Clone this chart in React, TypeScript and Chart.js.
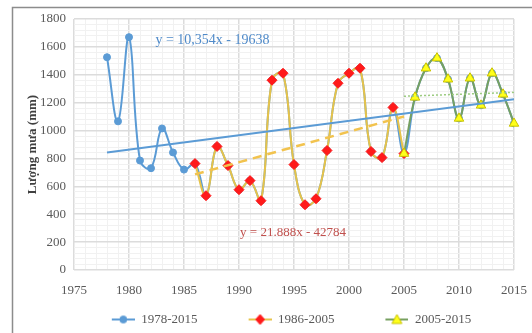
import React, { useEffect, useRef } from "react";
import { Chart, registerables } from "chart.js";

Chart.register(...registerables);

const years = [
  1978, 1979, 1980, 1981, 1982, 1983, 1984, 1985, 1986, 1987, 1988, 1989, 1990,
  1991, 1992, 1993, 1994, 1995, 1996, 1997, 1998, 1999, 2000, 2001, 2002, 2003,
  2004, 2005, 2006, 2007, 2008, 2009, 2010, 2011, 2012, 2013, 2014, 2015,
];
const rainfall = [
  1526, 1066, 1670, 785, 730, 1015, 843, 720, 763, 533, 886, 749, 576, 641, 497,
  1361, 1411, 756, 468, 511, 857, 1339, 1411, 1447, 850, 806, 1166, 835, 1238,
  1447, 1519, 1368, 1087, 1375, 1181, 1411, 1260, 1051,
];
const seriesLabels = ["1978-2015", "1986-2005", "2005-2015"];
const periodStart = [1978, 1986, 2005];
const periodEnd = [2015, 2005, 2015];

const trendBlueYears = [1978, 2015];
const trendBlueValues = [842, 1225];
const trendRedYears = [1986, 2005];
const trendRedValues = [686, 1101];
const trendGreenYears = [2005, 2015];
const trendGreenValues = [1246, 1274];

const eqBlueText = "y = 10,354x - 19638";
const eqBlueAt = [1982.4, 1650];
const eqRedText = "y = 21.888x - 42784";
const eqRedAt = [1990.1, 265];

const xTicks = [1975, 1980, 1985, 1990, 1995, 2000, 2005, 2010, 2015];
const yTicks = [0, 200, 400, 600, 800, 1000, 1200, 1400, 1600, 1800];
const yTitle = "Lượng mưa (mm)";

const FONT = "'Liberation Serif', 'Times New Roman', serif";
const BLUE = "#5B9BD5";
const GOLD = "#E6C34A";
const RED = "#FF1A1A";
const GREEN = "#77A061";
const YELLOW = "#FFFF1A";

function periodPoints(i: number) {
  const pts: { x: number; y: number }[] = [];
  years.forEach((yr, k) => {
    if (yr >= periodStart[i] && yr <= periodEnd[i]) pts.push({ x: yr, y: rainfall[k] });
  });
  return pts;
}

function pairPoints(xs: number[], ys: number[]) {
  return xs.map((x, k) => ({ x, y: ys[k] }));
}

const LEG_W = 72;
const LEG_OFF = 49;

function legendImage(line: string, marker: string, fill: string, stroke: string) {
  const c = document.createElement("canvas");
  c.width = LEG_W;
  c.height = 12;
  const g = c.getContext("2d")!;
  g.strokeStyle = line;
  g.lineWidth = 2;
  g.beginPath();
  g.moveTo(LEG_OFF, 6);
  g.lineTo(LEG_W, 6);
  g.stroke();
  const cx = (LEG_OFF + LEG_W) / 2, cy = 6;
  g.fillStyle = fill;
  g.strokeStyle = stroke;
  g.lineWidth = 1;
  g.beginPath();
  if (marker === "circle") {
    g.arc(cx, cy, 3.5, 0, Math.PI * 2);
  } else if (marker === "diamond") {
    g.moveTo(cx, cy - 5);
    g.lineTo(cx + 4.5, cy);
    g.lineTo(cx, cy + 5);
    g.lineTo(cx - 4.5, cy);
    g.closePath();
  } else {
    g.moveTo(cx, cy - 5);
    g.lineTo(cx + 5, cy + 4);
    g.lineTo(cx - 5, cy + 4);
    g.closePath();
  }
  g.fill();
  g.stroke();
  return c;
}

const decorPlugin = {
  id: "decor",
  beforeDraw(chart: any) {
    const ctx = chart.ctx;
    ctx.save();
    ctx.strokeStyle = "#8c8c8c";
    ctx.lineWidth = 1.5;
    ctx.strokeRect(12.5, 7.5, 700, 500);
    ctx.restore();
  },
  afterDatasetsDraw(chart: any) {
    const ctx = chart.ctx;
    const xs = chart.scales.x;
    const ys = chart.scales.y;
    ctx.save();
    ctx.textBaseline = "middle";
    ctx.textAlign = "left";
    ctx.font = `14px ${FONT}`;
    ctx.fillStyle = "#4F8AC9";
    ctx.fillText(eqBlueText, xs.getPixelForValue(eqBlueAt[0]), ys.getPixelForValue(eqBlueAt[1]));
    ctx.font = `13px ${FONT}`;
    ctx.fillStyle = "#C0504D";
    ctx.fillText(eqRedText, xs.getPixelForValue(eqRedAt[0]), ys.getPixelForValue(eqRedAt[1]));
    ctx.restore();
  },
};

export default function App() {
  const ref = useRef<HTMLCanvasElement>(null);

  useEffect(() => {
    document.body.style.margin = "0";
    const imgs = [
      legendImage(BLUE, "circle", BLUE, BLUE),
      legendImage(GOLD, "diamond", RED, RED),
      legendImage(GREEN, "triangle", YELLOW, "#C9C200"),
    ];
    const chart = new Chart(ref.current!, {
      type: "line",
      data: {
        datasets: [
          {
            label: seriesLabels[0],
            data: periodPoints(0),
            borderColor: BLUE,
            backgroundColor: BLUE,
            borderWidth: 2,
            pointStyle: "circle",
            pointRadius: 3.5,
            pointBorderWidth: 1,
            tension: 0.4,
            order: 5,
          },
          {
            label: seriesLabels[1],
            data: periodPoints(1),
            borderColor: GOLD,
            backgroundColor: RED,
            pointBorderColor: RED,
            borderWidth: 2,
            pointStyle: "rectRot",
            pointRadius: 5,
            pointBorderWidth: 1,
            tension: 0.4,
            order: 4,
          },
          {
            label: seriesLabels[2],
            data: periodPoints(2),
            borderColor: GREEN,
            backgroundColor: YELLOW,
            pointBorderColor: "#C9C200",
            borderWidth: 2,
            pointStyle: "triangle",
            pointRadius: 5.5,
            pointBorderWidth: 1,
            tension: 0.4,
            clip: 10,
            order: 3,
          },
          {
            label: "trend1",
            data: pairPoints(trendBlueYears, trendBlueValues),
            borderColor: BLUE,
            borderWidth: 2,
            pointRadius: 0,
            order: 2,
          },
          {
            label: "trend2",
            data: pairPoints(trendRedYears, trendRedValues),
            borderColor: "#F2C34E",
            borderWidth: 2.5,
            borderDash: [9, 6],
            pointRadius: 0,
            order: 1,
          },
          {
            label: "trend3",
            data: pairPoints(trendGreenYears, trendGreenValues),
            borderColor: "#9CCB80",
            borderWidth: 1.5,
            borderDash: [2, 2],
            pointRadius: 0,
            order: 0,
          },
        ],
      },
      options: {
        animation: false,
        responsive: false,
        maintainAspectRatio: false,
        layout: { padding: { left: 20, right: 18, top: 19, bottom: -3 } },
        scales: {
          x: {
            type: "linear",
            min: xTicks[0],
            max: xTicks[xTicks.length - 1],
            border: { display: false },
            afterFit: (s: any) => {
              s.paddingRight = 0;
              s.paddingLeft = 0;
            },
            grid: {
              drawTicks: false,
              color: (c: any) => (c.tick && xTicks.includes(c.tick.value) ? "#dcdcdc" : "#f1f1f1"),
              lineWidth: (c: any) => (c.tick && xTicks.includes(c.tick.value) ? 1.5 : 1),
            },
            ticks: {
              stepSize: 1,
              autoSkip: false,
              maxRotation: 0,
              padding: 14,
              color: "#595959",
              font: { family: FONT, size: 13, lineHeight: 1 },
              callback: (v: any) => (xTicks.includes(Number(v)) ? String(v) : ""),
            },
          },
          y: {
            min: yTicks[0],
            max: yTicks[yTicks.length - 1],
            border: { display: false },
            afterFit: (s: any) => {
              s.width = 54;
            },
            grid: {
              drawTicks: false,
              color: (c: any) => (c.tick && yTicks.includes(c.tick.value) ? "#dcdcdc" : "#f1f1f1"),
              lineWidth: (c: any) => (c.tick && yTicks.includes(c.tick.value) ? 1.5 : 1),
            },
            ticks: {
              stepSize: 40,
              autoSkip: false,
              padding: 8,
              color: "#595959",
              font: { family: FONT, size: 13 },
              callback: (v: any) => (yTicks.includes(Number(v)) ? String(v) : ""),
            },
            title: {
              display: true,
              text: yTitle,
              color: "#404040",
              padding: { top: 5, bottom: 0 },
              font: { family: FONT, size: 13, weight: "bold" },
            },
          },
        },
        plugins: {
          tooltip: { enabled: false },
          legend: {
            display: true,
            position: "bottom",
            labels: {
              usePointStyle: true,
              pointStyleWidth: LEG_W,
              boxHeight: 12,
              padding: 2,
              color: "#595959",
              font: { family: FONT, size: 13, lineHeight: 1 },
              generateLabels: () =>
                seriesLabels.map((t, i) => ({
                  text: t,
                  pointStyle: imgs[i],
                  fillStyle: "transparent",
                  strokeStyle: "transparent",
                  lineWidth: 0,
                  hidden: false,
                  datasetIndex: i,
                  fontColor: "#595959",
                })),
            },
          },
        },
      },
      plugins: [decorPlugin],
    } as any);
    return () => chart.destroy();
  }, []);

  return (
    <div style={{ width: 532, height: 333 }}>
      <canvas ref={ref} width={532} height={333} style={{ display: "block" }} />
    </div>
  );
}
